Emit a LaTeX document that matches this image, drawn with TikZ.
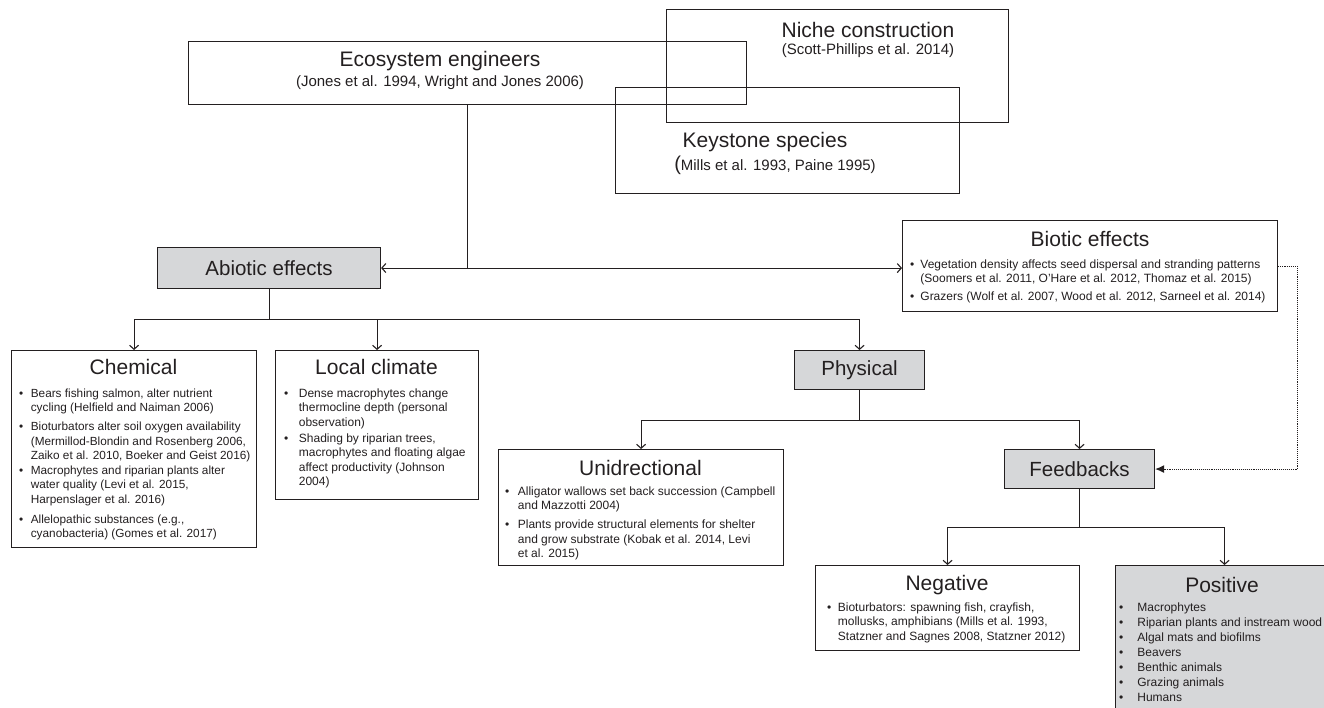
\documentclass[tikz,border=0pt]{standalone}
\usepackage{fontspec}
\setmainfont{Liberation Sans}
\usepackage{tikz}
\usetikzlibrary{arrows.meta, positioning}
\definecolor{hopxam}{RGB}{214,215,217}
\definecolor{mauchu}{RGB}{35,31,32}

\begin{document}
\begin{tikzpicture}[x=1pt, y=-1pt, >={Straight Barb[length=4pt,width=9pt]},
    khung/.style={draw=mauchu, line width=1.1pt, inner sep=0pt, anchor=north west},
    khungxam/.style={khung, fill=hopxam, text=mauchu, font=\fontsize{20.5}{24}\selectfont},
    tieude/.style={text=mauchu, inner sep=0pt, font=\fontsize{21}{24}\selectfont},
    trichdan/.style={text=mauchu, inner sep=0pt, font=\fontsize{15}{18}\selectfont},
    noidung/.style={text=mauchu, inner sep=0pt, anchor=north west, font=\fontsize{12}{14.5}\selectfont},
    noi/.style={draw=mauchu, line width=1.1pt}]

    \clip (0,0) rectangle (1324,707);

    % =================================================================
    % 1. BA KHUNG KHAI NIEM O TREN CUNG (CHONG LEN NHAU)
    % =================================================================
    \node[khung, minimum width=558, minimum height=63] (E) at (188,41) {};
    \node[khung, minimum width=342, minimum height=113] (N) at (666,9) {};
    \node[khung, minimum width=344, minimum height=106] (K) at (615,87) {};

    \node[tieude] (Et) at (440,61) {Ecosystem engineers};
    \node[trichdan] (Ec) at (440,83) {(Jones et al. 1994, Wright and Jones 2006)};
    \node[tieude] (Nt) at (868,30) {Niche construction};
    \node[trichdan] (Nc) at (868,51) {(Scott-Phillips et al. 2014)};
    \node[tieude] (Kt) at (765,142) {Keystone species};
    \node[trichdan] (Kc) at (775,165) {{\fontsize{20}{20}\selectfont(}Mills et al. 1993, Paine 1995)};

    % =================================================================
    % 2. CAC KHUNG TAC DONG
    % =================================================================
    % Khung xam
    \node[khungxam, minimum width=223, minimum height=41] (A) at (157,247) {Abiotic effects};
    \node[khungxam, minimum width=130, minimum height=39] (P) at (794,350) {Physical};
    \node[khungxam, minimum width=150, minimum height=39] (F) at (1004,449) {Feedbacks};

    % Khung trang co danh sach
    \node[khung, minimum width=375, minimum height=91] (B) at (902,220) {};
    \node[khung, minimum width=245, minimum height=197] (C) at (11,350) {};
    \node[khung, minimum width=203, minimum height=149] (L) at (275,350) {};
    \node[khung, minimum width=285, minimum height=116] (U) at (498,449) {};
    \node[khung, minimum width=264, minimum height=85] (Ng) at (815,565) {};
    \node[khung, fill=hopxam, minimum width=218, minimum height=160] (Ps) at (1115,565) {};

    % Tieu de cac khung
    \node[tieude] (Bt) at (1090,239) {Biotic effects};
    \node[tieude] (Ct) at (133.5,367) {Chemical};
    \node[tieude] (Lt) at (376.5,367) {Local climate};
    \node[tieude] (Ut) at (640.5,468) {Unidrectional};
    \node[tieude] (Ngt) at (947,585) {Negative};
    \node[tieude] (Pst) at (1222,585) {Positive};

    % =================================================================
    % 3. NOI DUNG GACH DAU DONG
    % =================================================================
    \node[noidung, font=\fontsize{12}{14}\selectfont] (Bd) at (910,258) {%
      \begin{tabular}{@{}l@{\hspace{6pt}}l@{}}
        \textbullet & Vegetation density affects seed dispersal and stranding patterns\\
                    & (Soomers et al. 2011, O'Hare et al. 2012, Thomaz et al. 2015)\\[4pt]
        \textbullet & Grazers (Wolf et al. 2007, Wood et al. 2012, Sarneel et al. 2014)
      \end{tabular}};

    \node[noidung, font=\fontsize{11.8}{14.5}\selectfont] (Cd) at (19,387) {%
      \begin{tabular}{@{}l@{\hspace{7.5pt}}l@{}}
        \textbullet & Bears fishing salmon, alter nutrient\\
                    & cycling (Helfield and Naiman 2006)\\[4.5pt]
        \textbullet & Bioturbators alter soil oxygen availability\\
                    & (Mermillod-Blondin and Rosenberg 2006,\\
                    & Zaiko et al. 2010, Boeker and Geist 2016)\\
        \textbullet & Macrophytes and riparian plants alter\\
                    & water quality (Levi et al. 2015,\\
                    & Harpenslager et al. 2016)\\[5.5pt]
        \textbullet & Allelopathic substances (e.g.,\\
                    & cyanobacteria) (Gomes et al. 2017)
      \end{tabular}};

    \node[noidung] (Ld) at (284,387) {%
      \begin{tabular}{@{}l@{\hspace{10.5pt}}l@{}}
        \textbullet & Dense macrophytes change\\
                    & thermocline depth (personal\\
                    & observation)\\[1.5pt]
        \textbullet & Shading by riparian trees,\\
                    & macrophytes and floating algae\\
                    & affect productivity (Johnson\\
                    & 2004)
      \end{tabular}};

    \node[noidung] (Ud) at (505,485) {%
      \begin{tabular}{@{}l@{\hspace{8.5pt}}l@{}}
        \textbullet & Alligator wallows set back succession (Campbell\\
                    & and Mazzotti 2004)\\[4.5pt]
        \textbullet & Plants provide structural elements for shelter\\
                    & and grow substrate (Kobak et al. 2014, Levi\\
                    & et al. 2015)
      \end{tabular}};

    \node[noidung] (Ngd) at (827,601) {%
      \begin{tabular}{@{}l@{\hspace{6.5pt}}l@{}}
        \textbullet & Bioturbators: spawning fish, crayfish,\\
                    & mollusks, amphibians (Mills et al. 1993,\\
                    & Statzner and Sagnes 2008, Statzner 2012)
      \end{tabular}};

    \node[noidung, font=\fontsize{12}{15}\selectfont] (Psd) at (1119,601) {%
      \begin{tabular}{@{}l@{\hspace{14pt}}l@{}}
        \textbullet & Macrophytes\\
        \textbullet & Riparian plants and instream wood\\
        \textbullet & Algal mats and biofilms\\
        \textbullet & Beavers\\
        \textbullet & Benthic animals\\
        \textbullet & Grazing animals\\
        \textbullet & Humans
      \end{tabular}};

    % =================================================================
    % 4. CAC DUONG NOI
    % =================================================================
    % Tu ecosystem engineers xuong, tach sang hai ben
    \coordinate (G) at (E.south |- A.east);
    \draw[noi] (E.south) -- (G);
    \draw[noi, <->] (A.east) -- (A.east -| B.west);

    % Nhanh abiotic
    \coordinate (T1) at ([yshift=-30pt]A.south);
    \draw[noi] (A.south) -- (T1);
    \draw[noi, ->] (T1) -| (C.north);
    \draw[noi, ->] (T1) -| (L.north);
    \draw[noi, ->] (T1) -| (P.north);

    % Nhanh physical
    \coordinate (T2) at ([yshift=-30pt]P.south);
    \draw[noi] (P.south) -- (T2);
    \draw[noi, ->] (T2) -| (U.north);
    \draw[noi, ->] (T2) -| (F.north);

    % Nhanh feedbacks
    \coordinate (T3) at ([yshift=-38pt]F.south);
    \draw[noi] (F.south) -- (T3);
    \draw[noi, ->] (T3) -| (Ng.north);
    \draw[noi, ->] (T3) -| (Ps.north);

    % Duong cham tu biotic ve feedbacks
    \coordinate (D1) at ([xshift=19pt]B.east);
    \coordinate (D2) at (D1 |- F.east);
    \draw[noi, densely dotted, -{Latex[length=9pt,width=8pt]}] (B.east) -- (D1) -- (D2) -- (F.east);

\end{tikzpicture}
\end{document}
